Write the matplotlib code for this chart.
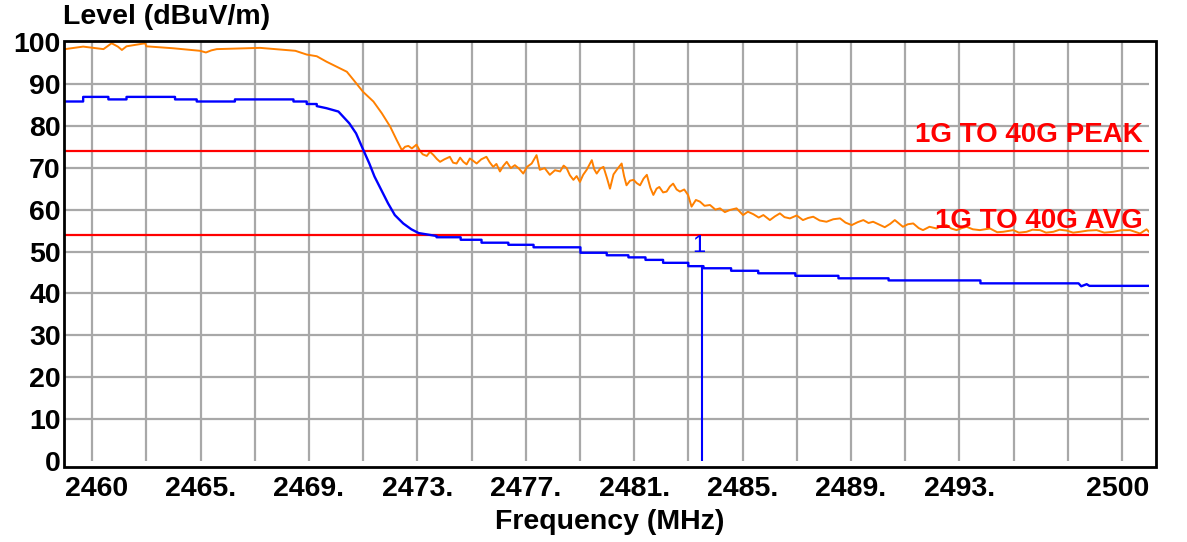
import matplotlib
matplotlib.use("Agg")
import matplotlib.pyplot as plt
from matplotlib.patches import Rectangle

plt.rcParams['font.family'] = ['Liberation Sans', 'DejaVu Sans']

# peak trace (orange)
peak_freq = [2460.0, 2460.67, 2461.42, 2461.72, 2461.95, 2462.1, 2462.27, 2462.96, 2463.0, 2464.0,
             2464.98, 2465.2, 2465.4, 2465.6, 2467.2, 2468.5, 2468.92, 2469.29, 2469.65, 2470.4,
             2470.64, 2471.0, 2471.38, 2471.69, 2472.0, 2472.24, 2472.43, 2472.55, 2472.67, 2472.8,
             2472.97, 2473.1, 2473.2, 2473.35, 2473.47, 2473.6, 2473.72, 2473.84, 2474.0, 2474.2,
             2474.32, 2474.45, 2474.58, 2474.7, 2474.82, 2474.94, 2475.07, 2475.19, 2475.36, 2475.55,
             2475.67, 2475.8, 2475.92, 2476.05, 2476.17, 2476.3, 2476.45, 2476.6, 2476.75, 2476.91,
             2477.05, 2477.22, 2477.4, 2477.52, 2477.7, 2477.89, 2478.08, 2478.27, 2478.4, 2478.51,
             2478.63, 2478.76, 2478.88, 2479.0, 2479.12, 2479.25, 2479.44, 2479.53, 2479.62, 2479.75,
             2479.87, 2480.0, 2480.11, 2480.24, 2480.36, 2480.54, 2480.63, 2480.72, 2480.85, 2480.98,
             2481.1, 2481.22, 2481.35, 2481.47, 2481.6, 2481.71, 2481.83, 2481.93, 2482.07, 2482.2,
             2482.32, 2482.44, 2482.57, 2482.69, 2482.85, 2482.99, 2483.12, 2483.28, 2483.43, 2483.6,
             2483.8, 2484.0, 2484.17, 2484.35, 2484.53, 2484.78, 2485.02, 2485.2, 2485.4, 2485.6,
             2485.77, 2486.01, 2486.2, 2486.38, 2486.55, 2486.75, 2487.0, 2487.23, 2487.42, 2487.61,
             2487.85, 2488.1, 2488.35, 2488.6, 2488.8, 2489.03, 2489.25, 2489.46, 2489.65, 2489.82,
             2490.05, 2490.25, 2490.45, 2490.62, 2490.92, 2491.1, 2491.3, 2491.5, 2491.66, 2491.9,
             2492.16, 2492.35, 2492.53, 2492.7, 2492.9, 2493.1, 2493.27, 2493.5, 2493.76, 2494.13,
             2494.4, 2494.62, 2494.99, 2495.2, 2495.48, 2495.7, 2495.98, 2496.2, 2496.47, 2496.7,
             2496.96, 2497.2, 2497.45, 2497.75, 2498.07, 2498.35, 2498.68, 2499.0, 2499.3, 2499.67,
             2499.91, 2500.0]
peak_level = [98.3, 98.9, 98.3, 99.7, 98.9, 98.1, 98.97, 99.7, 98.97, 98.5,
              97.9, 97.5, 98.0, 98.3, 98.6, 97.9, 97.0, 96.6, 95.3, 92.9,
              91.0, 88.1, 85.8, 83.0, 79.8, 76.6, 74.2, 75.0, 75.2, 74.6,
              75.5, 74.0, 73.2, 72.8, 73.8, 73.0, 72.1, 71.4, 72.0, 72.6,
              71.2, 71.0, 72.4, 71.4, 70.8, 72.2, 71.6, 71.0, 72.0, 72.6,
              71.3, 70.2, 70.9, 69.1, 70.4, 71.4, 69.9, 70.6, 69.8, 68.6,
              70.2, 71.0, 73.0, 69.5, 69.9, 68.3, 69.4, 69.1, 70.5, 69.9,
              68.2, 67.1, 68.0, 66.6, 68.3, 69.5, 71.8, 69.6, 68.6, 69.8,
              70.2, 67.5, 65.0, 68.4, 69.5, 71.0, 68.0, 65.8, 66.9, 67.1,
              66.3, 65.8, 67.4, 68.3, 65.2, 63.5, 65.0, 65.4, 64.1, 64.3,
              65.5, 66.2, 64.8, 64.3, 64.8, 63.5, 60.7, 62.3, 61.9, 60.9,
              61.1, 60.0, 60.3, 59.4, 59.9, 60.3, 58.7, 59.5, 58.9, 58.1,
              58.7, 57.5, 58.4, 59.1, 58.2, 57.9, 58.6, 57.5, 58.0, 58.3,
              57.4, 57.1, 57.7, 57.9, 56.9, 56.3, 57.0, 57.5, 56.8, 57.1,
              56.4, 55.8, 56.6, 57.5, 55.9, 56.5, 56.7, 55.6, 55.1, 55.9,
              55.5, 56.1, 56.3, 55.5, 55.1, 55.6, 55.9, 55.3, 55.1, 55.5,
              54.6, 54.7, 55.1, 54.5, 54.7, 55.2, 55.1, 54.5, 54.7, 55.2,
              55.0, 54.5, 54.7, 55.0, 55.1, 54.5, 54.7, 55.1, 55.1, 54.3,
              55.3, 54.7]

# average trace (blue)
avg_freq = [2460.0, 2460.67, 2460.67, 2461.6, 2461.6, 2462.27, 2462.27, 2464.06, 2464.06, 2464.86,
            2464.86, 2466.27, 2466.27, 2468.43, 2468.43, 2468.92, 2468.92, 2469.29, 2469.29, 2469.65,
            2470.09, 2470.49, 2470.74, 2470.99, 2471.23, 2471.42, 2471.67, 2471.92, 2472.17, 2472.48,
            2472.78, 2473.05, 2473.71, 2473.71, 2474.6, 2474.6, 2475.37, 2475.37, 2476.36, 2476.36,
            2477.29, 2477.29, 2479.02, 2479.02, 2479.99, 2479.99, 2480.79, 2480.79, 2481.42, 2481.42,
            2482.07, 2482.07, 2483.0, 2483.0, 2483.56, 2483.56, 2484.58, 2484.58, 2485.58, 2485.58,
            2486.95, 2486.95, 2488.54, 2488.54, 2490.39, 2490.39, 2493.78, 2493.78, 2497.4, 2497.5,
            2497.7, 2497.8, 2500.0]
avg_level = [85.8, 85.8, 86.9, 86.9, 86.3, 86.3, 86.9, 86.9, 86.3, 86.3,
             85.8, 85.8, 86.3, 86.3, 85.8, 85.8, 85.2, 85.2, 84.7, 84.2,
             83.4, 80.6, 78.2, 74.5, 71.0, 67.9, 64.7, 61.5, 58.7, 56.7,
             55.3, 54.4, 53.7, 53.4, 53.4, 52.8, 52.8, 52.1, 52.1, 51.6,
             51.6, 51.0, 51.0, 49.7, 49.7, 49.1, 49.1, 48.6, 48.6, 48.0,
             48.0, 47.3, 47.3, 46.5, 46.5, 46.0, 46.0, 45.4, 45.4, 44.8,
             44.8, 44.2, 44.2, 43.6, 43.6, 43.1, 43.1, 42.4, 42.4, 41.7,
             42.2, 41.8, 41.8]

limit_peak = 74
limit_avg = 54
marker_freq = 2483.5
marker_level = 46.5

xtick_pos = [2460, 2465, 2469, 2473, 2477, 2481, 2485, 2489, 2493, 2500]
xtick_txt = ['2460', '2465.', '2469.', '2473.', '2477.', '2481.', '2485.', '2489.', '2493.', '2500']
xgrid = list(range(2461, 2500, 2))
ytick_pos = list(range(0, 101, 10))
ygrid = list(range(10, 100, 10))

W, H = 1187, 542
fig = plt.figure(figsize=(W / 100, H / 100), dpi=100)
ax = fig.add_axes([65 / W, 1 - 461 / H, (1149 - 65) / W, (461 - 42) / H])

ax.set_xlim(2460, 2500)
ax.set_ylim(0, 100)
ax.xaxis.remove_overlapping_locs = False
ax.yaxis.remove_overlapping_locs = False
ax.set_xticks(xtick_pos)
ax.set_xticklabels(xtick_txt, fontsize=20.5, fontweight='bold')
ax.set_xticks(xgrid, minor=True)
ax.set_yticks(ytick_pos)
ax.set_yticklabels([str(v) for v in ytick_pos], fontsize=20.5, fontweight='bold')
ax.set_yticks(ygrid, minor=True)
ax.tick_params(which='both', length=0)
ax.tick_params(axis='x', pad=11)
ax.tick_params(axis='y', pad=3)
lbls = ax.get_xticklabels()
lbls[0].set_ha('left')
lbls[-1].set_ha('right')

ax.grid(False)
ax.xaxis.grid(True, which='minor', color='#a8a8a8', lw=1.6)
ax.yaxis.grid(True, which='minor', color='#a8a8a8', lw=1.6)
for s in ax.spines.values():
    s.set_visible(False)
ax.add_patch(Rectangle((-1.5 / 1084, -5.5 / 419), 1 + 8.5 / 1084, 1 + 6.5 / 419,
                       transform=ax.transAxes, fill=False, ec='black', lw=2.0,
                       clip_on=False, zorder=5))

ax.axhline(limit_peak, color='#ff0000', lw=1.6, zorder=3)
ax.axhline(limit_avg, color='#ff0000', lw=1.6, zorder=3)
ax.plot(peak_freq, peak_level, color='#ff8000', lw=1.4, zorder=2)
ax.plot(avg_freq, avg_level, color='#0000ff', lw=1.7, zorder=4)
ax.plot([marker_freq, marker_freq], [0, marker_level], color='#0000ff', lw=1.5, zorder=4)
ax.text(marker_freq - 0.1, 51.3, '1', color='#0000ff', fontsize=17, ha='center', va='center')

ax.text(2499.78, 76.1, '1G TO 40G PEAK', color='#ff0000', fontsize=20, fontweight='bold',
        ha='right', va='baseline', zorder=6)
ax.text(2499.78, 55.6, '1G TO 40G AVG', color='#ff0000', fontsize=20, fontweight='bold',
        ha='right', va='baseline', zorder=6)

fig.text(63 / W, 1 - 17 / H, 'Level (dBuV/m)', fontsize=20.5, fontweight='bold', ha='left', va='center')
fig.text(610 / W, 1 - 522 / H, 'Frequency (MHz)', fontsize=20.5, fontweight='bold', ha='center', va='center')

fig.savefig('out.png', dpi=100)
